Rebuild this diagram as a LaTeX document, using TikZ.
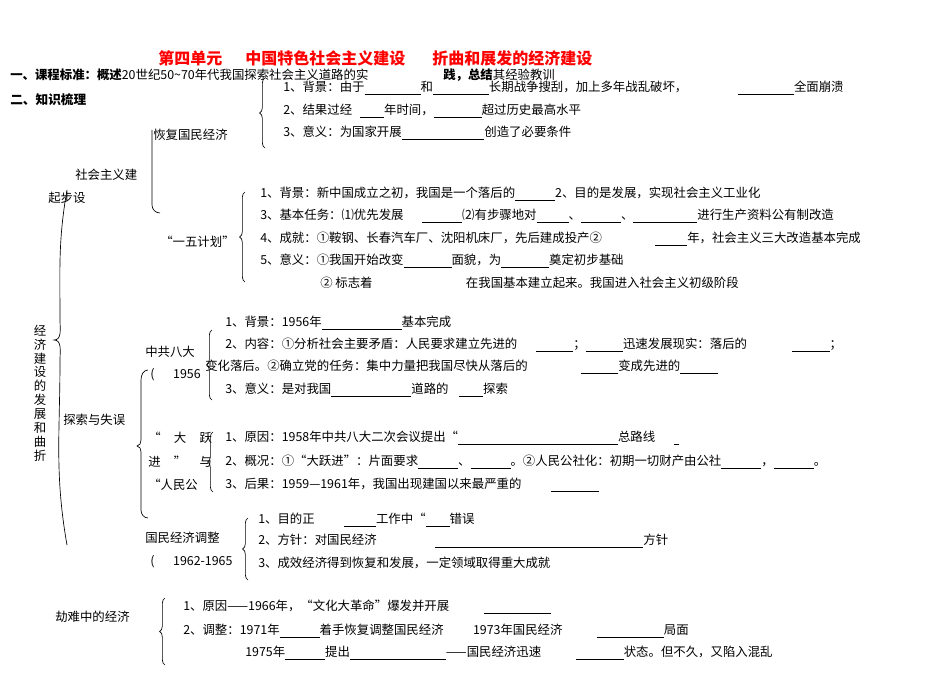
\documentclass[tikz,border=0pt]{standalone}
\usepackage{fontspec}
\setmainfont{Noto Sans CJK SC}
\usetikzlibrary{decorations.pathreplacing}
\newcommand\bk[1]{\rule[-2pt]{#1pt}{0.5pt}}
\begin{document}
\begin{tikzpicture}[x=0.75pt,y=-0.75pt,
  t/.style={anchor=west,inner sep=0pt,font=\fontsize{9.3}{11}\selectfont},
  hd/.style={t,font=\fontsize{9.5}{11}\selectfont\bfseries},
  br/.style={decorate,decoration={brace,amplitude=4pt},line width=0.5pt}]
\useasboundingbox (0,0) rectangle (950,673);
\node[t,text=red,font=\fontsize{12}{13}\selectfont\bfseries] (ti1) at (158,58) {第四单元};
\node[t,text=red,font=\fontsize{12}{13}\selectfont\bfseries] (ti2) at (245,58) {中国特色社会主义建设};
\node[t,text=red,font=\fontsize{12}{13}\selectfont\bfseries] (ti3) at (432,58) {折曲和展发的经济建设};
\node[t] (l1) at (10,75) {\textbf{一、课程标准：概述}20世纪50\textasciitilde70年代我国探索社会主义道路的实};
\node[t] (l1b) at (443,75) {\textbf{践，总结}其经验教训};
\node[hd] (l2) at (10,100) {二、知识梳理};
% recovery
\draw[br] (265,148) -- (265,78);
\node[t] (a1) at (283,88) {1、背景：由于\bk{42}和\bk{42}长期战争搜刮，加上多年战乱破坏，\hspace{38pt}\bk{42}全面崩溃};
\node[t] (a2) at (283,111) {2、结果过经\hspace{6pt}\bk{18}年时间，\bk{36}超过历史最高水平};
\node[t] (a3) at (283,133) {3、意义：为国家开展\bk{62}创造了必要条件};
\node[t] (hf) at (153,135) {恢复国民经济};
\draw[line width=0.5pt] (152,130) -- (152,205) to[out=-90,in=180] (160,213);
\node[t] (sh) at (75,175) {社会主义建};
\node[t] (qb) at (48,198) {起步设};
% big brace
\draw[line width=0.5pt] (67,190) to[out=-100,in=90] (60,320) to[out=-90,in=0] (54,340) to[out=0,in=90] (60,360) to[out=-90,in=100] (67,545);
\node[t,align=center,anchor=center,font=\fontsize{9.3}{10.4}\selectfont] (vt) at (40,393) {经\\济\\建\\设\\的\\发\\展\\和\\曲\\折};
% yiwu
\draw[br] (245,282) -- (245,192);
\node[t] (yw) at (160,242) {“一五计划”};
\node[t] (b1) at (260,194) {1、背景：新中国成立之初，我国是一个落后的\bk{30}2、目的是发展，实现社会主义工业化};
\node[t] (b2) at (260,216) {3、基本任务：⑴优先发展\hspace{14pt}\bk{30}⑵有步骤地对\bk{24}、\bk{30}、\bk{48}进行生产资料公有制改造};
\node[t] (b3) at (260,239) {4、成就：①鞍钢、长春汽车厂、沈阳机床厂，先后建成投产②\hspace{40pt}\bk{24}年，社会主义三大改造基本完成};
\node[t] (b4) at (260,261) {5、意义：①我国开始改变\bk{36}面貌，为\bk{36}奠定初步基础};
\node[t] (b5) at (320,283) {② 标志着\hspace{70pt}在我国基本建立起来。我国进入社会主义初级阶段};
% baida
\draw[br] (212,400) -- (212,330);
\node[t] (bd) at (145,352) {中共八大};
\node[t] (bd2) at (150,375) {(\hspace{14pt}1956};
\node[t] (c1) at (225,323) {1、背景：1956年\bk{60}基本完成};
\node[t] (c2) at (225,345) {2、内容：①分析社会主要矛盾：人民要求建立先进的\hspace{14pt}\bk{28}；\bk{28}迅速发展现实：落后的\hspace{34pt}\bk{28}；};
\node[t] (c3) at (205,367) {变化落后。②确立党的任务：集中力量把我国尽快从落后的\hspace{40pt}\bk{28}变成先进的\bk{28}};
\node[t] (c4) at (225,390) {3、意义：是对我国\bk{60}道路的\hspace{8pt}\bk{18}探索};
% tansuo
\draw[line width=0.5pt] (148,370) to[out=180,in=90] (141,380) -- (141,440) to[out=-90,in=0] (137,446) to[out=0,in=90] (141,452) -- (141,510) to[out=-90,in=180] (148,518);
\node[t] (ts) at (63,420) {探索与失误};
\node[t] (dy1) at (148,438) {“\hspace{10pt}大\hspace{10pt}跃};
\node[t] (dy2) at (148,462) {进\hspace{10pt}”\hspace{10pt}与};
\node[t] (dy3) at (148,485) {“人民公};
\draw[br] (213,492) -- (213,432);
\node[t] (d1) at (225,438) {1、原因：1958年中共八大二次会议提出“\bk{120}总路线\hspace{14pt}\bk{4}};
\node[t] (d2) at (225,462) {2、概况：①“大跃进”：片面要求\bk{30}、\bk{30}。②人民公社化：初期一切财产由公社\bk{30}，\bk{30}。};
\node[t] (d3) at (225,485) {3、后果：1959—1961年，我国出现建国以来最严重的\hspace{22pt}\bk{36}};
% tiaozheng
\draw[br] (248,580) -- (248,518);
\node[t] (tz) at (145,538) {国民经济调整};
\node[t] (tz2) at (150,562) {(\hspace{14pt}1962-1965};
\node[t] (e1) at (258,520) {1、目的正\hspace{22pt}\bk{24}工作中“\bk{18}错误};
\node[t] (e2) at (258,541) {2、方针：对国民经济\hspace{44pt}\bk{156}方针};
\node[t] (e3) at (258,563) {3、成效经济得到恢复和发展，一定领域取得重大成就};
% wenge
\draw[br] (165,665) -- (165,598);
\node[t] (wg) at (55,617) {劫难中的经济};
\node[t] (f1) at (183,607) {1、原因——1966年，“文化大革命”爆发并开展\hspace{26pt}\bk{50}};
\node[t] (f2) at (183,631) {2、调整：1971年\bk{30}着手恢复调整国民经济\hspace{22pt}1973年国民经济\hspace{26pt}\bk{50}局面};
\node[t] (f3) at (245,653) {1975年\bk{30}提出\bk{72}——国民经济迅速\hspace{26pt}\bk{36}状态。但不久，又陷入混乱};
\end{tikzpicture}
\end{document}
